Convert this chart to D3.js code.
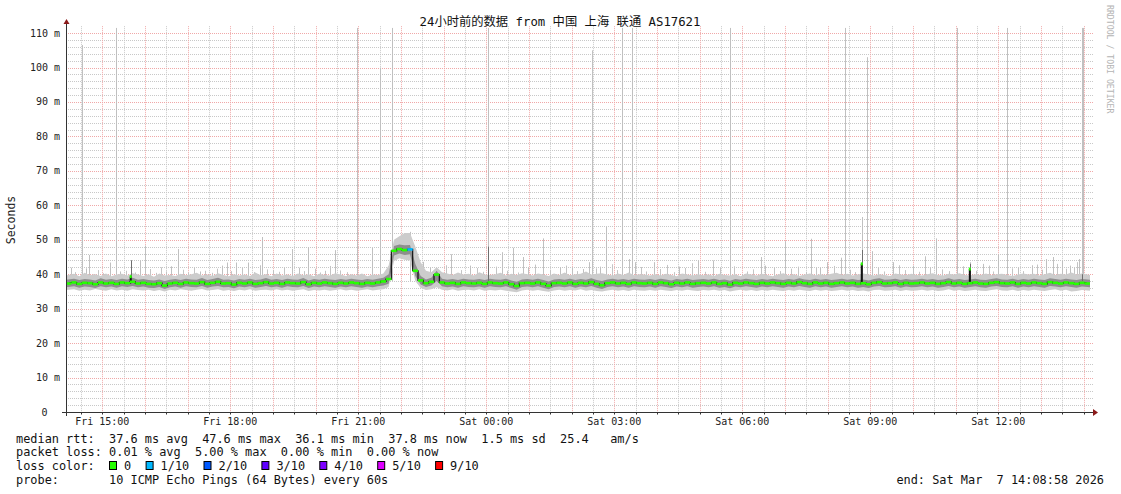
<!DOCTYPE html>
<html>
<head>
<meta charset="utf-8">
<script src="https://cdn.jsdelivr.net/npm/d3@7"></script>
<style>
  body { margin: 0; background: #fff; }
  text { font-family: "DejaVu Sans Mono", "Noto Sans CJK SC", monospace; }
</style>
</head>
<body>
<svg id="chart" width="1121" height="494"></svg>
<script>
// 24h window, one value every 7.5 minutes (192 steps)
var endTime = new Date(2026, 2, 7, 14, 8, 58)
var startTime = new Date(endTime.getTime() - 24 * 3600 * 1000)
var stepMinutes = 7.5

var median = [
  37.3,37.6,37.2,37.5,37.4,37.1,37.6,37.3,37.5,37.2,
  37.6,37.4,37.8,37.3,37.5,37.2,37.1,37.4,36.7,37.3,
  37.5,37.2,37.6,37.4,37.3,37.7,37.2,37.5,37.8,37.3,
  37.4,37.0,37.5,37.3,37.6,37.2,37.4,37.7,37.3,37.5,
  37.2,37.6,37.4,37.3,37.7,37.1,37.5,37.3,37.6,37.4,
  37.2,37.5,37.3,37.6,37.4,37.2,37.5,37.3,37.6,37.9,
  38.6,46.8,47.3,47.0,47.2,41.0,38.2,37.4,37.8,39.9,
  37.6,37.3,37.5,37.2,37.6,37.4,37.3,37.5,37.2,37.6,
  37.4,37.3,37.6,37.1,36.6,37.4,37.5,37.3,37.6,37.2,
  36.7,37.4,37.5,37.3,37.6,37.2,37.5,37.3,37.7,37.2,
  36.8,37.4,37.6,37.3,37.5,37.2,37.6,37.4,37.3,37.5,
  37.2,37.6,37.4,37.1,37.5,37.3,37.6,37.2,37.4,37.5,
  37.3,37.6,37.2,37.4,37.0,37.5,37.3,37.6,37.4,37.2,
  37.5,37.3,37.6,37.4,37.2,37.5,37.3,37.7,37.4,37.2,
  37.6,37.3,37.5,37.2,37.4,37.6,37.3,37.5,37.2,37.4,
  37.1,37.5,37.7,37.3,37.4,37.6,37.2,37.5,37.3,37.4,
  37.6,37.3,37.5,37.2,37.4,37.7,37.3,37.5,37.2,37.4,
  37.6,37.3,37.2,37.5,37.7,37.4,37.3,37.6,37.2,37.5,
  37.3,37.6,37.4,37.2,37.7,37.5,37.3,37.6,37.4,37.2,
  37.5,37.3
]

// outer smoke (slowest / fastest ping)
var smokeHigh = [
  39.6,40.1,39.4,40.4,39.7,40.0,39.5,40.2,39.4,39.9,
  40.1,39.6,40.3,39.9,39.5,40.0,39.3,40.2,39.6,39.8,
  39.5,40.1,39.7,40.0,40.4,39.6,39.9,39.5,40.3,39.8,
  39.4,40.0,39.6,39.9,39.5,40.5,39.7,40.0,39.4,40.2,
  39.6,39.9,39.5,40.2,39.7,40.0,39.4,40.1,39.8,39.6,
  40.3,39.9,39.5,40.0,39.6,40.2,39.4,39.9,39.8,40.2,
  42.5,50.0,51.0,52.0,52.0,48.0,43.5,41.0,40.6,42.0,
  40.6,40.2,39.8,40.5,39.9,40.1,39.6,40.6,39.9,39.8,
  40.0,40.4,39.6,40.1,39.8,40.3,40.0,39.6,40.2,39.9,
  39.5,40.2,39.8,40.5,39.7,40.0,40.1,40.8,39.9,40.1,
  40.3,39.9,39.6,40.2,39.8,40.5,39.7,40.0,39.9,39.6,
  40.0,39.6,40.1,39.8,39.4,40.2,39.9,39.6,40.0,39.7,
  39.9,39.5,40.1,39.8,39.6,40.0,39.4,40.2,39.9,39.6,
  40.1,39.8,39.4,39.9,40.3,39.6,40.0,39.5,39.9,40.2,
  39.7,40.0,39.8,40.1,40.4,39.8,40.1,39.6,39.9,40.2,
  39.9,39.6,40.0,39.8,39.5,40.2,39.9,39.7,40.1,39.8,
  39.6,40.0,40.3,39.8,39.6,40.1,39.9,40.3,39.8,39.6,
  40.0,39.8,40.2,39.7,40.0,40.1,39.8,39.5,39.9,40.2,
  39.9,40.1,39.6,40.0,40.4,39.8,40.1,39.9,40.5,39.9,
  40.2,39.8
]
var smokeLow = [
  35.4,35.6,35.2,35.5,35.3,35.7,35.4,35.2,35.6,35.3,
  35.5,35.2,35.6,35.4,35.3,35.5,35.1,35.4,35.0,35.5,
  35.3,35.6,35.4,35.2,35.5,35.7,35.3,35.4,35.6,35.2,
  35.4,35.1,35.5,35.3,35.6,35.2,35.4,35.5,35.3,35.6,
  35.3,35.5,35.2,35.4,35.6,35.1,35.4,35.3,35.5,35.2,
  35.4,35.6,35.3,35.5,35.2,35.4,35.6,35.3,35.5,35.6,
  36.3,43.8,44.6,44.2,44.0,38.0,36.0,35.4,35.6,36.2,
  35.5,35.3,35.6,35.2,35.4,35.5,35.3,35.6,35.2,35.4,
  35.3,35.5,35.2,35.0,34.8,35.3,35.5,35.2,35.4,35.1,
  34.9,35.3,35.5,35.2,35.4,35.3,35.6,35.2,35.4,35.1,
  35.0,35.3,35.5,35.2,35.4,35.1,35.5,35.3,35.2,35.4,
  35.2,35.5,35.3,35.1,35.4,35.2,35.5,35.3,35.1,35.4,
  35.3,35.5,35.2,35.4,35.0,35.3,35.5,35.2,35.4,35.1,
  35.4,35.2,35.5,35.3,35.1,35.4,35.2,35.5,35.3,35.1,
  35.5,35.2,35.4,35.1,35.3,35.5,35.2,35.4,35.1,35.3,
  35.0,35.4,35.5,35.2,35.3,35.5,35.1,35.4,35.2,35.3,
  35.5,35.2,35.4,35.1,35.3,35.6,35.2,35.4,35.1,35.3,
  35.5,35.2,35.1,35.4,35.6,35.3,35.2,35.5,35.1,35.4,
  35.2,35.5,35.3,35.1,35.4,35.6,35.2,35.5,35.0,35.1,
  35.4,35.2
]
// inner smoke (pings closest to the median)
var innerHigh = [
  38.4,38.7,38.3,38.6,38.5,38.2,38.8,38.4,38.6,38.3,
  38.7,38.5,39.0,38.4,38.6,38.3,38.2,38.5,38.0,38.4,
  38.6,38.3,38.7,38.5,38.4,38.9,38.3,38.6,39.0,38.4,
  38.5,38.2,38.6,38.4,38.7,38.3,38.5,38.9,38.4,38.6,
  38.3,38.7,38.5,38.4,38.9,38.2,38.6,38.4,38.7,38.5,
  38.3,38.6,38.4,38.7,38.5,38.3,38.6,38.4,38.7,39.0,
  40.0,48.2,48.6,48.4,48.5,43.0,39.5,38.5,39.0,41.0,
  38.7,38.4,38.6,38.3,38.7,38.5,38.4,38.6,38.3,38.7,
  38.5,38.4,38.7,38.2,37.8,38.5,38.6,38.4,38.7,38.3,
  37.9,38.5,38.6,38.4,38.7,38.3,38.6,38.4,38.8,38.3,
  38.0,38.5,38.7,38.4,38.6,38.3,38.7,38.5,38.4,38.6,
  38.3,38.7,38.5,38.2,38.6,38.4,38.7,38.3,38.5,38.6,
  38.4,38.7,38.3,38.5,38.1,38.6,38.4,38.7,38.5,38.3,
  38.6,38.4,38.7,38.5,38.3,38.6,38.4,38.8,38.5,38.3,
  38.7,38.4,38.6,38.3,38.5,38.7,38.4,38.6,38.3,38.5,
  38.2,38.6,38.8,38.4,38.5,38.7,38.3,38.6,38.4,38.5,
  38.7,38.4,38.6,38.3,38.5,38.8,38.4,38.6,38.3,38.5,
  38.7,38.4,38.3,38.6,38.8,38.5,38.4,38.7,38.3,38.6,
  38.4,38.7,38.5,38.3,38.8,38.6,38.4,38.7,38.5,38.3,
  38.6,38.4
]
var innerLow = [
  36.2,36.5,36.1,36.4,36.3,36.0,36.5,36.2,36.4,36.1,
  36.5,36.3,36.6,36.2,36.4,36.1,36.0,36.3,35.7,36.2,
  36.4,36.1,36.5,36.3,36.2,36.6,36.1,36.4,36.6,36.2,
  36.3,35.9,36.4,36.2,36.5,36.1,36.3,36.6,36.2,36.4,
  36.1,36.5,36.3,36.2,36.6,36.0,36.4,36.2,36.5,36.3,
  36.1,36.4,36.2,36.5,36.3,36.1,36.4,36.2,36.5,36.7,
  37.2,45.4,46.0,45.6,45.8,39.5,37.0,36.3,36.7,38.0,
  36.5,36.2,36.4,36.1,36.5,36.3,36.2,36.4,36.1,36.5,
  36.3,36.2,36.5,36.0,35.5,36.3,36.4,36.2,36.5,36.1,
  35.6,36.3,36.4,36.2,36.5,36.1,36.4,36.2,36.6,36.1,
  35.7,36.3,36.5,36.2,36.4,36.1,36.5,36.3,36.2,36.4,
  36.1,36.5,36.3,36.0,36.4,36.2,36.5,36.1,36.3,36.4,
  36.2,36.5,36.1,36.3,35.9,36.4,36.2,36.5,36.3,36.1,
  36.4,36.2,36.5,36.3,36.1,36.4,36.2,36.6,36.3,36.1,
  36.5,36.2,36.4,36.1,36.3,36.5,36.2,36.4,36.1,36.3,
  36.0,36.4,36.6,36.2,36.3,36.5,36.1,36.4,36.2,36.3,
  36.5,36.2,36.4,36.1,36.3,36.6,36.2,36.4,36.1,36.3,
  36.5,36.2,36.1,36.4,36.6,36.3,36.2,36.5,36.1,36.4,
  36.2,36.5,36.3,36.1,36.6,36.4,36.2,36.5,36.3,36.1,
  36.4,36.2
]

// single slow pings: [minutes after start, ms]
var spikes = [
  [7,41.9],[22,106.5],[23,106.5],[28,41.7],[33,45.6],[38,39.9],[62,43.4],[71,111.5],[76,40.8],
  [91,44.1],[104,44],[111,48.3],[148,42.3],[157,47.3],[188,40.8],[220,42.5],[226,43.4],
  [239,43.4],[256,43.4],[273,42.6],[275,50.8],[291,41.2],[318,47.3],[328,41.9],[341,47.9],
  [364,41],[378,47],[409,111.5],[430,47.7],[441,100],[459,111.5],[484,52.3],[502,43.6],
  [512,41.9],[542,45.8],[568,42.5],[594,111.5],[613,46.4],[629,47.7],[643,45],[650,41.9],
  [671,50.4],[695,42],[711,41.9],[727,41.5],[736,43.5],[739,105],[751,42.2],[760,53.8],
  [782,111.5],[792,44.4],[796,111.5],[800,43.5],[827,43.5],[862,42.2],[889,44],[910,44],
  [934,111.5],[950,40],[978,45],[983,42.5],[1011,49.6],[1048,50.3],[1060,41.9],[1070,43.5],
  [1090,44.8],[1095,111.5],[1119,56.6],[1127,103],[1134,46.7],[1163,43.5],[1191,42.5],
  [1208,45.2],[1224,50.4],[1253,111.5],[1271,43.5],[1290,43],[1311,45.8],[1323,111.5],
  [1339,41.9],[1358,42.6],[1378,44.4],[1388,45],[1400,44],[1412,42.5],[1425,44.4],
  [1429,111.5],[1430,111.5]
]
// the short bristles on top of the smoke
var smallSpikes = [
  [12,40.6],[45,41.2],[52,40.3],[84,41.0],[97,40.5],[118,41.5],[126,40.4],[134,42.0],[141,40.8],
  [165,41.3],[172,40.5],[180,42.1],[196,41.0],[205,40.4],[212,41.6],[232,40.9],[247,41.8],
  [264,40.6],[283,41.4],[299,40.7],[306,42.0],[334,40.9],[350,41.6],[357,40.5],[371,42.4],
  [386,41.1],[395,40.6],[520,40.8],[535,42.6],[556,41.2],[578,41.8],[586,40.7],[605,42.2],
  [620,41.0],[636,40.5],[660,42.8],[680,41.3],[703,42.5],[718,40.9],[745,41.7],[768,42.9],
  [775,41.2],[808,42.1],[815,40.8],[835,41.5],[845,42.7],[855,40.6],[870,41.8],[880,43.2],
  [898,40.7],[920,41.9],[940,42.3],[958,40.8],[966,41.4],[995,42.0],[1004,40.9],[1020,41.6],
  [1030,42.2],[1040,40.7],[1055,41.9],[1080,42.4],[1102,41.3],[1110,40.6],[1142,41.9],
  [1150,40.8],[1172,42.6],[1180,41.2],[1199,40.7],[1215,42.1],[1232,41.4],[1242,40.9],
  [1262,42.3],[1280,41.0],[1298,42.5],[1304,40.8],[1330,41.7],[1346,40.9],[1365,42.8],
  [1372,41.3],[1394,43.0],[1406,41.6],[1418,42.0],[1422,43.5]
]
var darkSpikes = [[91,44],[594,48],[1119,47],[1120,47],[1271,43],[1429,40]]
var medianPeaks = [[91,39.3],[1119,43],[1271,41.5]]

// packet loss per step: [step index, lost pings out of 10]
var lossSteps = [[64,1]]
var lossColors = ["#26ff00","#00b8ff","#0059ff","#5e00ff","#7e00ff","#dd00ff","#ff0000"]
var lossLabels = ["0","1/10","2/10","3/10","4/10","5/10","9/10"]
var lossLevels = [0,1,2,3,4,5,9]

var yTicks = [0,10,20,30,40,50,60,70,80,90,100,110]

var legendLines = [
  "median rtt:  37.6 ms avg  47.6 ms max  36.1 ms min  37.8 ms now  1.5 ms sd  25.4   am/s",
  "packet loss: 0.01 % avg  5.00 % max  0.00 % min  0.00 % now",
  "loss color:",
  "probe:       10 ICMP Echo Pings (64 Bytes) every 60s"
]

var svg = d3.select("#chart")
var plotLeft = 66, plotRight = 1090, plotTop = 26.2, plotBottom = 412

var x = d3.scaleTime().domain([startTime, endTime]).range([plotLeft, plotRight])
var y = d3.scaleLinear().domain([0, 112]).range([plotBottom, plotTop])

function stepTime(i) {
  return new Date(startTime.getTime() + (i + 0.5) * stepMinutes * 60000)
}
function minuteTime(m) {
  return new Date(startTime.getTime() + m * 60000)
}
function px(v) { return Math.round(v) + 0.5 }

// grid
var grid = svg.append("g")
var minorY = d3.range(2, 112, 2).filter(function(v) { return v % 10 !== 0 })
grid.selectAll(".hy").data(minorY).enter().append("line")
  .attr("x1", plotLeft).attr("x2", plotRight + 3)
  .attr("y1", function(d) { return px(y(d)) })
  .attr("y2", function(d) { return px(y(d)) })
  .attr("stroke", "#c8c8c8").attr("stroke-dasharray", "1,1")
var halfHours = d3.timeMinute.every(30).range(startTime, endTime)
  .filter(function(d) { return d.getMinutes() === 30 })
grid.selectAll(".vx").data(halfHours).enter().append("line")
  .attr("x1", function(d) { return px(x(d)) })
  .attr("x2", function(d) { return px(x(d)) })
  .attr("y1", plotTop).attr("y2", plotBottom)
  .attr("stroke", "#c8c8c8").attr("stroke-dasharray", "1,1")
grid.selectAll(".my").data(yTicks.filter(function(d) { return d > 0 })).enter().append("line")
  .attr("x1", plotLeft).attr("x2", plotRight + 3)
  .attr("y1", function(d) { return px(y(d)) })
  .attr("y2", function(d) { return px(y(d)) })
  .attr("stroke", "#f0a8a8").attr("stroke-dasharray", "1,1")
var hours = d3.timeHour.range(startTime, endTime)
grid.selectAll(".mx").data(hours).enter().append("line")
  .attr("x1", function(d) { return px(x(d)) })
  .attr("x2", function(d) { return px(x(d)) })
  .attr("y1", plotTop).attr("y2", plotBottom)
  .attr("stroke", "#f0a8a8").attr("stroke-dasharray", "1,1")

// smoke
var idx = d3.range(median.length)
var firstX = x(startTime), lastX = x(endTime)
function stepX(i) {
  if (i === 0) return firstX
  if (i === median.length - 1) return lastX
  return x(stepTime(i))
}
function band(lo, hi) {
  return d3.area()
    .x(stepX)
    .y0(function(i) { return y(lo[i]) })
    .y1(function(i) { return y(hi[i]) })
}
svg.append("clipPath").attr("id", "clipData").append("rect")
  .attr("x", firstX).attr("y", plotTop).attr("width", lastX - firstX).attr("height", plotBottom - plotTop)
var data = svg.append("g").attr("clip-path", "url(#clipData)")

function spikeLines(list, base, color) {
  data.append("g").selectAll("line").data(list).enter().append("line")
    .attr("x1", function(d) { return px(x(minuteTime(d[0]))) })
    .attr("x2", function(d) { return px(x(minuteTime(d[0]))) })
    .attr("y1", y(base)).attr("y2", function(d) { return y(d[1]) })
    .attr("stroke", color).attr("stroke-width", 1)
}
spikeLines(spikes, 38, "#c0c0c0")
spikeLines(smallSpikes, 38.5, "#c4c4c4")

data.append("path").datum(idx)
  .attr("d", band(smokeLow, smokeHigh))
  .attr("fill", "#cccccc")
data.append("path").datum(idx)
  .attr("d", band(innerLow, innerHigh))
  .attr("fill", "#8e8e8e")

spikeLines(darkSpikes, 38, "#6e6e6e")

// median line
var stepW = x(stepTime(1)) - x(stepTime(0))
data.append("path").datum(idx)
  .attr("d", d3.line().curve(d3.curveStep)
    .x(stepX)
    .y(function(i) { return y(median[i]) }))
  .attr("fill", "none").attr("stroke", "#111").attr("stroke-width", 1.2)

data.selectAll(".peak").data(medianPeaks).enter().append("line")
  .attr("x1", function(d) { return x(minuteTime(d[0])) })
  .attr("x2", function(d) { return x(minuteTime(d[0])) })
  .attr("y1", y(37.4)).attr("y2", function(d) { return y(d[1]) })
  .attr("stroke", "#111").attr("stroke-width", 2)

var lossByStep = new Map(lossSteps)
data.selectAll(".med").data(idx).enter().append("rect")
  .attr("x", function(i) { return x(stepTime(i)) - stepW / 2 })
  .attr("width", stepW)
  .attr("y", function(i) { return y(median[i]) - 1.3 })
  .attr("height", 2.6)
  .attr("fill", function(i) {
    var l = lossByStep.get(i) || 0
    return lossColors[lossLevels.indexOf(l)]
  })
data.selectAll(".peakcap").data(medianPeaks).enter().append("rect")
  .attr("x", function(d) { return x(minuteTime(d[0])) - 1 })
  .attr("width", 2)
  .attr("y", function(d) { return y(d[1]) - 1.5 })
  .attr("height", 3)
  .attr("fill", lossColors[0])

// axes
var axis = svg.append("g")
axis.append("line").attr("x1", 62).attr("x2", 1094).attr("y1", plotBottom + 0.5).attr("y2", plotBottom + 0.5)
  .attr("stroke", "#333")
axis.append("line").attr("x1", plotLeft + 0.5).attr("x2", plotLeft + 0.5).attr("y1", plotBottom + 4).attr("y2", 23)
  .attr("stroke", "#333")
axis.append("path").attr("d", "M1093,409L1098,412.5L1093,416Z").attr("fill", "#8b1a1a")
axis.append("path").attr("d", "M63.5,24L66.5,19L69.5,24Z").attr("fill", "#8b1a1a")

axis.selectAll(".xtick").data(halfHours.concat(hours)).enter().append("line")
  .attr("x1", function(d) { return px(x(d)) })
  .attr("x2", function(d) { return px(x(d)) })
  .attr("y1", plotBottom).attr("y2", plotBottom + 2.5)
  .attr("stroke", "#333")

axis.selectAll(".ylab").data(yTicks).enter().append("text")
  .attr("x", function(d) { return d === 0 ? 47.5 : 60 })
  .attr("y", function(d) { return y(d) + 3.5 })
  .attr("text-anchor", "end")
  .attr("font-size", "10px").attr("fill", "#222")
  .text(function(d) { return d === 0 ? "0" : d + " m" })

var fmt = d3.timeFormat("%a %H:%M")
axis.selectAll(".xlab").data(d3.timeHour.every(3).range(startTime, endTime)).enter().append("text")
  .attr("x", function(d) { return x(d) })
  .attr("y", 425)
  .attr("text-anchor", "middle")
  .attr("font-size", "10px").attr("fill", "#222")
  .text(function(d) { return fmt(d) })

svg.append("text")
  .attr("transform", "translate(15,220) rotate(-90)")
  .attr("text-anchor", "middle")
  .attr("font-size", "11.5px").attr("fill", "#222")
  .text("Seconds")

svg.append("text")
  .attr("x", 560).attr("y", 25.5)
  .attr("text-anchor", "middle")
  .attr("font-size", "12.3px").attr("fill", "#111")
  .text("24小时前的数据 from 中国 上海 联通 AS17621")

svg.append("text")
  .attr("transform", "translate(1107,5) rotate(90)")
  .attr("font-size", "8.2px").attr("fill", "#b4b4b4")
  .text("RRDTOOL / TOBI OETIKER")

// legend
var legend = svg.append("g")
  .attr("font-size", "11.9px").attr("fill", "#111")
legend.selectAll(".ll").data(legendLines).enter().append("text")
  .attr("x", 16)
  .attr("y", function(d, i) { return [442.5, 456.3, 470, 484][i] })
  .attr("xml:space", "preserve")
  .style("white-space", "pre")
  .text(function(d) { return d })

// each loss box advances by its label width (monospace) plus padding
var charW = 7.1
var boxStarts = []
lossLabels.reduce(function(acc, l) {
  boxStarts.push(acc)
  return acc + 29.5 + l.length * charW
}, 109)
var items = legend.selectAll(".lc").data(lossLabels).enter().append("g")
  .attr("transform", function(d, i) { return "translate(" + boxStarts[i] + ",0)" })
items.append("rect")
  .attr("x", 0.5).attr("y", 461.5).attr("width", 7).attr("height", 8)
  .attr("fill", function(d, i) { return lossColors[i] })
  .attr("stroke", "#000").attr("stroke-width", 1)
items.append("text")
  .attr("x", 15).attr("y", 470)
  .text(function(d) { return d })

legend.append("text")
  .attr("x", 1104).attr("y", 484)
  .attr("text-anchor", "end")
  .attr("xml:space", "preserve")
  .style("white-space", "pre")
  .text("end: Sat Mar  7 14:08:58 2026")
</script>
</body>
</html>
